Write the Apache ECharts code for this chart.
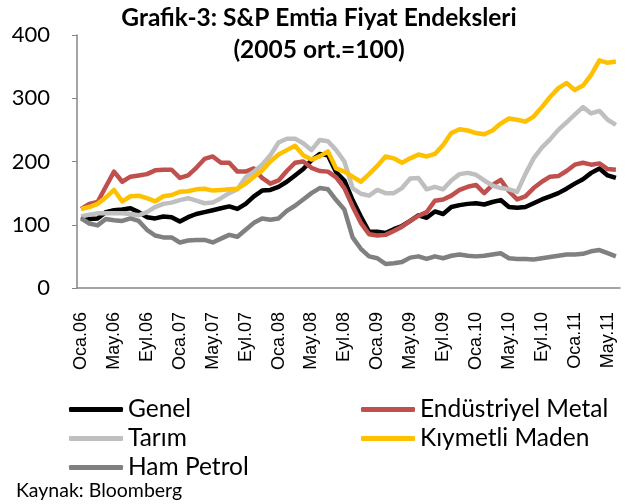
<!DOCTYPE html>
<html>
<head>
<meta charset="utf-8">
<script src="https://cdn.jsdelivr.net/npm/echarts@6/dist/echarts.min.js"></script>
<style>
  html, body { margin: 0; padding: 0; background: #fff; }
  #chart { width: 626px; height: 504px; }
</style>
</head>
<body>
<div id="chart"></div>
<script>
// ay isimleri (Ocak 2006 - Haziran 2011)
var monthNames = ["Oca", "Şub", "Mar", "Nis", "May", "Haz", "Tem", "Ağu", "Eyl", "Eki", "Kas", "Ara"];
var years = ["06", "07", "08", "09", "10", "11"];
var months = [];
years.forEach(function (y) {
  monthNames.forEach(function (m) { months.push(m + "." + y); });
});
months = months.slice(0, 66);

var yTicks = [0, 100, 200, 300, 400];

// seriler (2005 ort.=100)
var genel = [113, 109, 110, 120, 123, 124, 126, 120, 112, 110, 113, 112,
  105, 112, 117, 120, 123, 126, 129, 125, 133, 145, 154, 155,
  160, 168, 178, 188, 202, 212, 210, 183, 170, 139, 113, 89,
  89, 87, 93, 98, 106, 115, 111, 121, 117, 128, 131, 133,
  134, 132, 136, 139, 128, 127, 128, 134, 140, 145, 150, 157,
  165, 172, 182, 189, 178, 174];
var endMetal = [125, 133, 136, 160, 184, 168, 176, 178, 180, 186, 187, 187,
  174, 178, 190, 204, 208, 198, 198, 184, 184, 189, 174, 165,
  170, 185, 198, 200, 190, 185, 184, 175, 158, 129, 103, 85,
  83, 84, 90, 97, 106, 114, 120, 138, 140, 146, 155, 160,
  163, 150, 163, 171, 153, 140, 145, 158, 168, 176, 177, 185,
  195, 198, 195, 197, 188, 187];
var tarim = [113, 116, 118, 118, 118, 118, 117, 115, 120, 128, 133, 135,
  139, 142, 138, 134, 135, 142, 150, 156, 175, 184, 195, 210,
  230, 236, 236, 229, 218, 234, 232, 218, 200, 158, 149, 146,
  155, 150, 150, 158, 173, 174, 156, 160, 156, 170, 180, 182,
  179, 170, 162, 158, 156, 152, 180, 205, 222, 235, 250, 262,
  274, 286, 276, 280, 266, 258];
var kiymetli = [125, 128, 133, 143, 155, 137, 145, 146, 142, 137, 145, 147,
  152, 153, 156, 157, 154, 155, 156, 157, 165, 176, 186, 200,
  211, 218, 225, 210, 203, 208, 216, 189, 184, 176, 168, 180,
  193, 208, 205, 198, 205, 211, 208, 212, 226, 245, 251, 249,
  245, 243, 249, 260, 268, 266, 263, 271, 286, 302, 316, 324,
  313, 320, 337, 360, 356, 358];
var hamPetrol = [110, 102, 99, 109, 107, 106, 110, 106, 92, 83, 80, 80,
  72, 75, 76, 76, 72, 78, 84, 81, 92, 103, 110, 108,
  110, 122, 130, 140, 150, 158, 156, 139, 124, 80, 62, 50,
  47, 38, 39, 41, 48, 50, 46, 50, 47, 51, 53, 51,
  50, 51, 53, 55, 47, 46, 46, 45, 47, 49, 51, 53,
  53, 54, 58, 60, 55, 50];

var seriesNames = ["Genel", "Endüstriyel Metal", "Tarım", "Kıymetli Maden", "Ham Petrol"];
var seriesColors = ["#000000", "#C0504D", "#BFBFBF", "#FFC000", "#808080"];
var seriesData = [genel, endMetal, tarim, kiymetli, hamPetrol];

var titleLine1 = "Grafik-3: S&P Emtia Fiyat Endeksleri";
var titleLine2 = "(2005 ort.=100)";
var sourceText = "Kaynak: Bloomberg";

var font = "Lato, 'Open Sans', sans-serif";

// yazı boyutunu hedef genişliğe göre ayarla
var measureCtx = document.createElement("canvas").getContext("2d");
function fitSize(text, weight, targetWidth) {
  measureCtx.font = weight + " 20px " + font;
  var w = measureCtx.measureText(text).width;
  return Math.round(20 * targetWidth / w * 10) / 10;
}
var titleSize = fitSize(titleLine1, "bold", 395);
var sourceSize = fitSize(sourceText, "normal", 166);
var legendSize = fitSize("Endüstriyel Metal", "normal", 188);

var chart = echarts.init(document.getElementById("chart"), null, { renderer: "canvas" });

var legendCommon = {
  orient: "vertical", top: 392,
  itemWidth: 54, itemHeight: 5, itemGap: 4, icon: "roundRect",
  textStyle: { fontSize: legendSize, fontFamily: font, color: "#000", padding: [0, 0, 0, 0] }
};

var option = {
  animation: false,
  backgroundColor: "#ffffff",
  graphic: [
    {
      type: "text", x: 319, y: 18,
      style: { text: titleLine1, font: "bold " + titleSize + "px " + font, fill: "#000", align: "center", verticalAlign: "middle" }
    },
    {
      type: "text", x: 319, y: 50,
      style: { text: titleLine2, font: "bold " + titleSize + "px " + font, fill: "#000", align: "center", verticalAlign: "middle" }
    },
    {
      type: "text", x: 16, y: 491,
      style: { text: sourceText, font: sourceSize + "px " + font, fill: "#000", verticalAlign: "middle" }
    }
  ],
  legend: [
    Object.assign({ data: ["Genel", "Tarım", "Ham Petrol"], left: 64 }, legendCommon),
    Object.assign({ data: ["Endüstriyel Metal", "Kıymetli Maden"], left: 356 }, legendCommon)
  ],
  grid: { left: 77, right: 6, top: 35, bottom: 216, containLabel: false },
  xAxis: {
    type: "category",
    data: months,
    boundaryGap: true,
    axisLine: { lineStyle: { color: "#868686", width: 1.5 } },
    axisTick: { interval: 3, length: 5, lineStyle: { color: "#868686" } },
    axisLabel: {
      interval: 3, rotate: 90, margin: 24,
      fontSize: 18, fontFamily: "'Liberation Sans', Arial, sans-serif", color: "#000"
    },
    splitLine: { show: false }
  },
  yAxis: {
    type: "value",
    min: yTicks[0], max: yTicks[yTicks.length - 1], interval: 100,
    axisLine: { show: true, lineStyle: { color: "#868686", width: 1.5 } },
    axisTick: { show: true, length: 5, lineStyle: { color: "#868686" } },
    axisLabel: { margin: 27, fontSize: 22, fontFamily: font, color: "#000" },
    splitLine: { show: false }
  },
  series: seriesNames.map(function (name, i) {
    return {
      name: name,
      type: "line",
      data: seriesData[i],
      symbol: "none",
      lineStyle: { color: seriesColors[i], width: 4.5, join: "round" },
      itemStyle: { color: seriesColors[i] }
    };
  })
};

chart.setOption(option);
</script>
</body>
</html>
